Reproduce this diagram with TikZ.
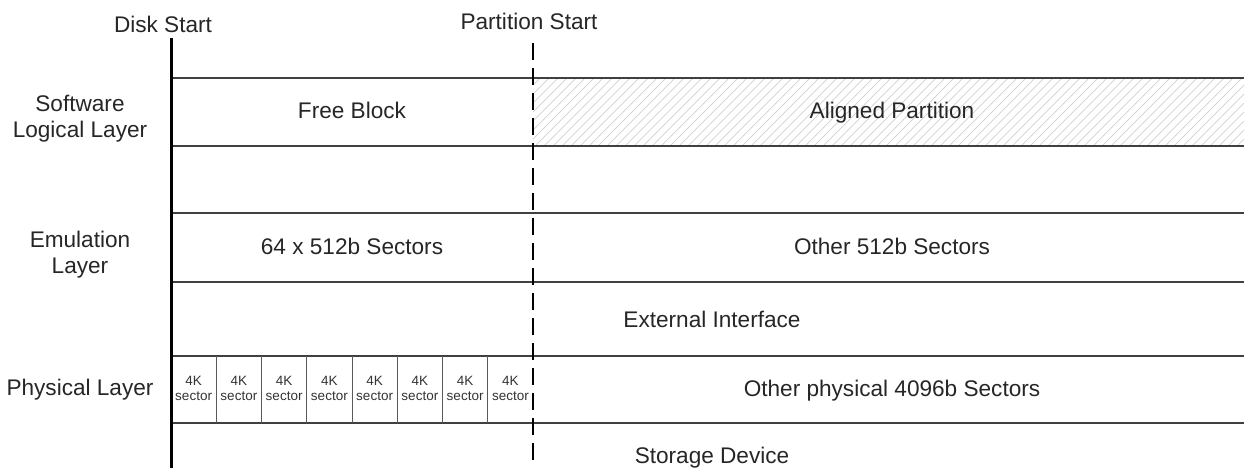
\documentclass[tikz,border=0pt]{standalone}
\usepackage{fontspec}
\setmainfont{Liberation Sans}
\usetikzlibrary{positioning,calc}

\begin{document}
\begin{tikzpicture}[x=1pt,y=-1pt,
	lbl/.style={font=\fontsize{22.6}{26}\selectfont, text=black!85, align=center, inner sep=0pt, anchor=base},
	seclbl/.style={font=\fontsize{13.5}{15}\selectfont, text=black!80, align=center, inner sep=0pt, anchor=base},
	layer/.style={line width=1.3pt, draw=black!75}]
	\def\L{171}
	\def\P{533}
	\def\R{1244}
	\def\cell{45.25}
	\useasboundingbox (0,0) rectangle (1244,468);
	
	% hatched aligned partition
	\begin{scope}
		\clip (\P,78) rectangle (\R,146);
		\foreach \i in {0,...,88} {
			\draw[black!18, line width=0.7pt] (\P-70+\i*9,146) -- ++(68,-68);
		}
	\end{scope}
	
	% layer lines
	\foreach \y in {78,146,213,282,356,423} {
		\draw[layer] (\L,\y) -- (\R,\y);
	}
	
	% physical sectors
	\foreach \i in {1,...,7} {
		\draw[black!65, line width=0.9pt] (\L+\i*\cell,356) -- (\L+\i*\cell,423);
	}
	\foreach \i in {0,...,7} {
		\node[seclbl] (sec\i) at (\L+0.5*\cell+\i*\cell,400) {4K\\sector};
	}
	
	% disk start / partition start
	\coordinate (disktop) at (\L,38);
	\coordinate (diskbot) at (\L,468);
	\coordinate (parttop) at (\P,43);
	\coordinate (partbot) at (\P,468);
	\draw[line width=3pt] (disktop) -- (diskbot);
	\draw[line width=1.5pt, dash pattern=on 17pt off 8pt] (parttop) -- (partbot);
	\node[lbl] (disk) at (163,33) {Disk Start};
	\node[lbl] (part) at (529,30) {Partition Start};
	
	% layer names (base = last line)
	\node[lbl] (soft) at (80,138) {Software\\Logical Layer};
	\node[lbl] (emul) at (80,273) {Emulation\\Layer};
	\node[lbl] (phys) at (80,395) {Physical Layer};
	
	% blocks
	\node[lbl] (free) at (352,118) {Free Block};
	\node[lbl] (aligned) at (892,118) {Aligned Partition};
	\node[lbl] (emu64) at (352,254) {64 x 512b Sectors};
	\node[lbl] (emuother) at (892,254) {Other 512b Sectors};
	\node[lbl] (extif) at (712,327) {External Interface};
	\node[lbl] (physother) at (892,396) {Other physical 4096b Sectors};
	\node[lbl] (storage) at (712,463) {Storage Device};
\end{tikzpicture}
\end{document}
